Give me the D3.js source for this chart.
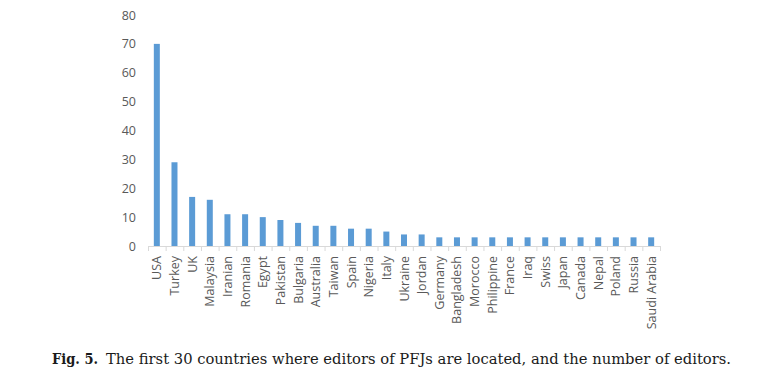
<!DOCTYPE html>
<html>
<head>
<meta charset="utf-8">
<script src="https://cdn.jsdelivr.net/npm/d3@7"></script>
<style>
  body { margin: 0; background: #fff; }
  svg text { font-family: "Open Sans", "Liberation Sans", sans-serif; }
</style>
</head>
<body>
<svg id="chart" width="778" height="390"></svg>
<script>
const countries = ['USA', 'Turkey', 'UK', 'Malaysia', 'Iranian', 'Romania', 'Egypt', 'Pakistan',
  'Bulgaria', 'Australia', 'Taiwan', 'Spain', 'Nigeria', 'Italy', 'Ukraine', 'Jordan', 'Germany',
  'Bangladesh', 'Morocco', 'Philippine', 'France', 'Iraq', 'Swiss', 'Japan', 'Canada', 'Nepal',
  'Poland', 'Russia', 'Saudi Arabia'];
const editors = [70, 29, 17, 16, 11, 11, 10, 9, 8, 7, 7, 6, 6, 5, 4, 4, 3, 3, 3, 3, 3, 3, 3, 3, 3, 3, 3, 3, 3];
const yTicks = [0, 10, 20, 30, 40, 50, 60, 70, 80];

const svg = d3.select('#chart');

const x = d3.scaleBand()
  .domain(countries)
  .range([148, 660])
  .paddingInner(0.66)
  .paddingOuter(0.33);

const y = d3.scaleLinear()
  .domain([0, 80])
  .range([246, 15]);

// y axis labels only, no line
const yAxis = svg.append('g')
  .attr('transform', 'translate(136,0)')
  .call(d3.axisLeft(y).tickValues(yTicks).tickSize(0).tickPadding(0));
yAxis.select('.domain').remove();
yAxis.selectAll('text')
  .style('font-size', '12.5px')
  .attr('fill', '#595959');

// bars
svg.append('g')
  .selectAll('rect')
  .data(countries)
  .enter().append('rect')
  .attr('x', d => x(d))
  .attr('width', x.bandwidth())
  .attr('y', (d, i) => y(editors[i]))
  .attr('height', (d, i) => y(0) - y(editors[i]))
  .style('fill', '#5b9bd5');

// x axis with ticks between categories
const step = x.step();
const xAxis = svg.append('g')
  .attr('transform', `translate(0,${y(0)})`);
xAxis.append('line')
  .attr('x1', 148).attr('x2', 660)
  .attr('y1', 0.5).attr('y2', 0.5)
  .attr('stroke', '#d9d9d9');
xAxis.selectAll('line.tick')
  .data(d3.range(countries.length + 1))
  .enter().append('line')
  .attr('class', 'tick')
  .attr('x1', i => 148 + i * step + 0.5)
  .attr('x2', i => 148 + i * step + 0.5)
  .attr('y1', 0).attr('y2', 5)
  .attr('stroke', '#d9d9d9');

xAxis.selectAll('text')
  .data(countries)
  .enter().append('text')
  .attr('transform', d => `translate(${x(d) + x.bandwidth() / 2 + 4.5},10) rotate(-90)`)
  .attr('text-anchor', 'end')
  .style('font-size', '12.5px')
  .attr('fill', '#595959')
  .text(d => d);

// caption
const caption = svg.append('g')
  .style('font-family', '"DejaVu Serif", "Liberation Serif", serif')
  .attr('fill', '#1a1a1a');
caption.append('text')
  .attr('x', 52)
  .attr('y', 364)
  .style('font-family', '"DejaVu Serif", serif')
  .style('font-size', '15px')
  .style('font-weight', 'bold')
  .attr('textLength', 46)
  .attr('lengthAdjust', 'spacingAndGlyphs')
  .text('Fig. 5.');
caption.append('text')
  .attr('x', 106)
  .attr('y', 364)
  .style('font-family', '"DejaVu Serif", serif')
  .style('font-size', '15px')
  .attr('textLength', 625)
  .attr('lengthAdjust', 'spacingAndGlyphs')
  .text('The first 30 countries where editors of PFJs are located, and the number of editors.');
</script>
</body>
</html>
